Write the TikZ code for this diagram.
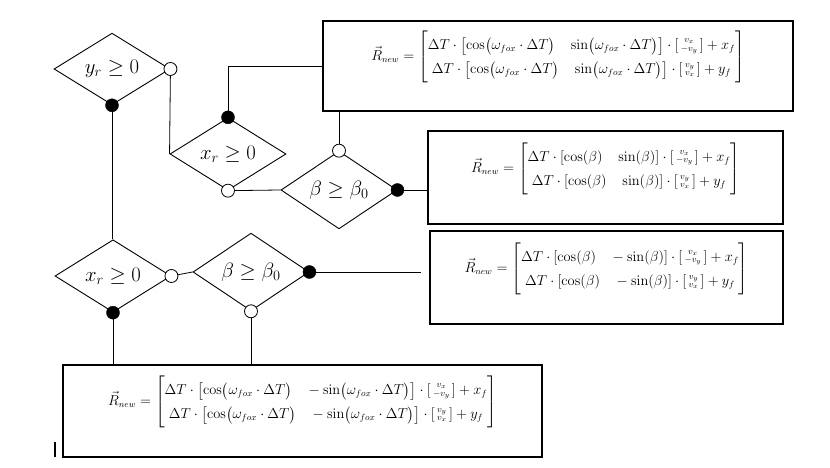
\documentclass[tikz,border=0pt]{standalone}
\usepackage{amsmath}
\usepackage{tikz}
\usetikzlibrary{shapes.geometric}

\tikzset{
  cond/.style={diamond, draw=black, line width=0.9pt, minimum width=116pt, minimum height=68pt, inner sep=0pt, font=\fontsize{20}{24}\selectfont},
  rulebox/.style={rectangle, draw=black, line width=1.1pt},
  formula/.style={yshift=9pt, inner sep=0pt, font=\fontsize{13.4}{16}\selectfont},
  link/.style={draw=black, line width=0.8pt}
}
\renewcommand{\arraystretch}{1.5}
\newcommand{\colvec}[2]{\left[\begin{smallmatrix}#1\\#2\end{smallmatrix}\right]}

\begin{document}
\begin{tikzpicture}[x=1pt,y=1pt]
\useasboundingbox (0,0) rectangle (830,468);

% decisions
\node[cond] (d1) at (112,399) {$y_r \geq 0$};
\node[cond] (d2) at (228,314) {$x_r \geq 0$};
\node[cond] (d3) at (339,278) {$\beta \geq \beta_0$};
\node[cond] (d4) at (113,192) {$x_r \geq 0$};
\node[cond] (d5) at (251,196) {$\beta \geq \beta_0$};

% result boxes
\node[rulebox, minimum width=470pt, minimum height=90pt] (box1) at (558,402) {};
\node[rulebox, minimum width=355pt, minimum height=93pt] (box2) at (605.5,290.5) {};
\node[rulebox, minimum width=353pt, minimum height=93pt] (box3) at (606.5,190.5) {};
\node[rulebox, minimum width=479pt, minimum height=92pt] (box4) at (302.5,57) {};

% formulas
\node[formula] (f1) at (box1.center) {$\vec{R}_{new}=\begin{bmatrix}
  \Delta T\cdot\bigl[\cos\bigl(\omega_{fox}\cdot\Delta T\bigr)\quad\sin\bigl(\omega_{fox}\cdot\Delta T\bigr)\bigr]\cdot\colvec{v_x}{-v_y}+x_f\\
  \Delta T\cdot\bigl[\cos\bigl(\omega_{fox}\cdot\Delta T\bigr)\quad\sin\bigl(\omega_{fox}\cdot\Delta T\bigr)\bigr]\cdot\colvec{v_y}{v_x}+y_f
\end{bmatrix}$};
\node[formula] (f2) at (box2.center) {$\vec{R}_{new}=\begin{bmatrix}
  \Delta T\cdot[\cos(\beta)\quad\sin(\beta)]\cdot\colvec{v_x}{-v_y}+x_f\\
  \Delta T\cdot[\cos(\beta)\quad\sin(\beta)]\cdot\colvec{v_y}{v_x}+y_f
\end{bmatrix}$};
\node[formula] (f3) at (box3.center) {$\vec{R}_{new}=\begin{bmatrix}
  \Delta T\cdot[\cos(\beta)\quad-\sin(\beta)]\cdot\colvec{v_x}{-v_y}+x_f\\
  \Delta T\cdot[\cos(\beta)\quad-\sin(\beta)]\cdot\colvec{v_y}{v_x}+y_f
\end{bmatrix}$};
\node[formula] (f4) at (box4.center) {$\vec{R}_{new}=\begin{bmatrix}
  \Delta T\cdot\bigl[\cos\bigl(\omega_{fox}\cdot\Delta T\bigr)\quad-\sin\bigl(\omega_{fox}\cdot\Delta T\bigr)\bigr]\cdot\colvec{v_x}{-v_y}+x_f\\
  \Delta T\cdot\bigl[\cos\bigl(\omega_{fox}\cdot\Delta T\bigr)\quad-\sin\bigl(\omega_{fox}\cdot\Delta T\bigr)\bigr]\cdot\colvec{v_y}{v_x}+y_f
\end{bmatrix}$};

% connectors
\draw[link] (d1.east) -- (d2.west);
\draw[link] (d1.south) -- (d1.south |- d4.north);
\draw[link] (d2.north) |- (box1.west);
\draw[link] (d2.south) -- (d3.west);
\draw[link] (d3.north) -- (d3.north |- box1.south);
\draw[link] (d3.east) -- (d3.east -| box2.west);
\draw[link] (d4.east) -- (d5.west);
\draw[link, shorten >=8pt] (d5.east) -- (d5.east -| box3.west);
\draw[link] (d4.south) -- (d4.south |- box4.north);
\draw[link] (d5.south) -- (d5.south |- box4.north);

% yes / no marks
\filldraw[fill=white, draw=black, line width=0.8pt] (d1.east) circle (6.5);
\filldraw[fill=black, draw=black] (d1.south) circle (6.5);
\filldraw[fill=black, draw=black] (d2.north) circle (6.5);
\filldraw[fill=white, draw=black, line width=0.8pt] (d2.south) circle (6.5);
\filldraw[fill=white, draw=black, line width=0.8pt] (d3.north) circle (6.5);
\filldraw[fill=black, draw=black] (d3.east) circle (6.5);
\filldraw[fill=white, draw=black, line width=0.8pt] (d4.east) circle (6.5);
\filldraw[fill=black, draw=black] (d4.south) circle (6.5);
\filldraw[fill=black, draw=black] (d5.east) circle (6.5);
\filldraw[fill=white, draw=black, line width=0.8pt] (d5.south) circle (6.5);

% caret
\draw[line width=1.6pt] (55,11) -- (55,26);

\end{tikzpicture}
\end{document}
